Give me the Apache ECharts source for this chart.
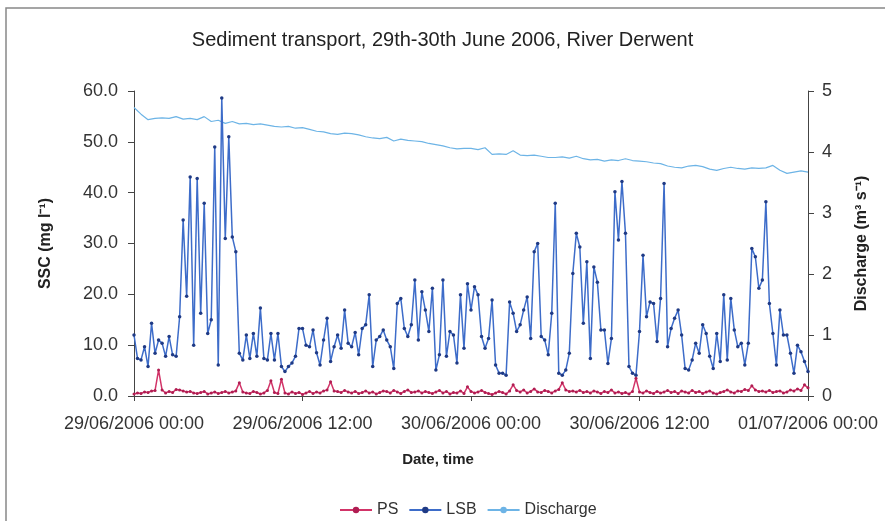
<!DOCTYPE html>
<html>
<head>
<meta charset="utf-8">
<script src="https://cdn.jsdelivr.net/npm/echarts@6/dist/echarts.min.js"></script>
<style>
  html, body { margin: 0; padding: 0; background: #fff; }
  #chart { width: 885px; height: 521px; }
</style>
</head>
<body>
<div id="chart"></div>
<script>
// hours since 29/06/2006 00:00
const xTickLabels = ['29/06/2006 00:00', '29/06/2006 12:00', '30/06/2006 00:00', '30/06/2006 12:00', '01/07/2006 00:00'];
const lsbStep = 0.25;      // 15 min samples
const dischargeStep = 0.5; // 30 min samples

// SSC, LSB sampler (mg/l)
const lsb = [
  12.0, 7.4, 7.1, 9.7, 5.8, 14.3, 8.4, 11.0, 10.4, 7.8,
  11.7, 8.1, 7.8, 15.6, 34.6, 19.6, 43.1, 10.0, 42.8, 16.3,
  37.9, 12.3, 15.0, 49.0, 6.1, 58.6, 31.0, 51.0, 31.3, 28.4,
  8.4, 7.1, 12.0, 7.4, 12.3, 7.8, 17.3, 7.4, 7.1, 12.3,
  7.1, 12.3, 5.8, 4.8, 5.8, 6.5, 7.8,
  13.3, 13.3, 10.0, 9.7, 13.0, 8.5, 6.1, 11.0, 15.3, 6.8,
  9.7, 12.0, 9.4, 16.9, 10.4, 9.7, 12.5, 8.1, 13.3, 14.0,
  19.9, 5.8, 11.0, 11.7, 13.0, 11.0, 9.7, 5.4, 18.2, 19.2,
  13.3, 11.7, 14.0, 22.8, 11.0, 20.5, 16.9, 12.7, 21.2, 5.1,
  8.1, 22.8, 7.8, 12.7, 12.0, 6.5, 19.9,
  9.4, 22.1, 16.9, 21.5, 19.9, 11.7, 9.4, 11.3, 18.9, 6.1,
  4.5, 4.5, 4.1, 18.5, 16.3, 12.7, 14.0, 16.9, 19.5, 11.3,
  28.4, 30.0, 11.7, 11.0, 8.1, 16.3, 37.9, 4.5, 4.1, 5.1,
  8.4, 24.1, 32.0, 29.3, 14.3, 26.4, 7.4, 25.4, 22.4, 13.0,
  13.0, 6.4, 11.3, 40.2, 30.7,
  42.2, 32.0, 5.8, 4.5, 4.1, 12.7, 27.7, 15.6, 18.5, 18.2,
  10.7, 19.2, 41.8, 9.7, 13.3, 15.3, 16.9, 12.0, 5.4, 5.1,
  7.1, 10.4, 8.4, 14.0, 12.3, 7.8, 5.4, 12.3, 6.8, 19.9,
  7.1, 19.2, 13.0, 9.7, 10.4, 6.1, 10.4, 29.0, 27.4, 21.2,
  22.8, 38.2, 18.2, 12.3, 6.1, 16.9, 12.0, 12.0, 8.4, 4.5,
  10.0, 8.7, 6.8, 4.8
];

// SSC, PS sampler (mg/l)
const ps = [
  0.4, 0.6, 0.5, 0.8, 0.7, 1.0, 1.1, 5.1, 1.2, 0.6, 0.9, 0.7, 1.3, 1.2, 1.0, 0.8, 0.9, 0.6, 0.5, 0.7,
  0.9, 0.4, 0.6, 0.8, 0.5, 0.7, 0.9, 0.6, 0.8, 1.0, 2.6, 0.8, 0.6, 0.5, 0.9, 0.7, 0.4, 0.6, 1.1, 3.0,
  0.7, 0.5, 3.3, 0.6, 0.4, 0.8, 0.5, 0.7, 0.3, 0.6, 0.9, 0.5, 0.8, 0.6, 1.0, 1.2, 2.8, 1.0, 0.9, 0.7,
  1.1, 0.8, 0.6, 0.9, 0.5, 0.7, 1.0, 0.6, 0.8, 0.4, 0.7, 1.0, 0.9, 0.6, 1.1, 0.8, 0.5, 0.9, 1.2, 0.7,
  0.8, 1.0, 0.6, 0.9, 0.7, 0.5, 0.8, 1.1, 0.6, 0.9, 0.4, 0.7, 0.6, 1.0, 0.5, 1.8, 0.9, 0.6, 0.8, 1.1,
  0.7, 0.5, 0.3, 0.6, 0.9, 0.7, 0.4, 1.0, 2.2, 1.1, 0.8, 1.2, 0.6, 0.9, 1.4, 0.8, 0.7, 1.1, 0.9, 0.6,
  1.0, 1.3, 2.6, 1.2, 0.9, 1.0, 0.8, 1.1, 0.7, 0.9, 0.6, 1.0, 0.8, 0.5, 0.9, 0.7, 1.2, 0.6, 0.8, 0.5,
  0.7, 0.4, 0.9, 3.5, 0.8, 0.6, 1.0, 0.7, 0.5, 0.9, 0.6, 0.8, 1.1, 0.7, 0.9, 0.5, 1.0, 0.8, 0.6, 1.1,
  0.7, 0.9, 0.5, 0.8, 1.0, 0.6, 0.4, 0.7, 0.9, 1.2, 0.8, 0.6, 1.0, 0.9, 1.3, 1.1, 2.0, 1.2, 0.9, 1.0,
  0.8, 1.1, 0.7, 0.9, 1.0, 0.6, 0.8, 1.2, 1.0, 1.4, 1.1, 2.2, 1.6
];

// discharge (m3/s)
const discharge = [
  4.73, 4.62, 4.53, 4.55, 4.56, 4.55, 4.58, 4.54, 4.55, 4.53,
  4.58, 4.50, 4.52, 4.47, 4.50, 4.46, 4.47, 4.45, 4.46, 4.44,
  4.42, 4.41, 4.42, 4.39, 4.40, 4.37, 4.34, 4.33, 4.30, 4.29,
  4.31, 4.30, 4.28, 4.25, 4.23, 4.22, 4.24, 4.18, 4.21, 4.19,
  4.18, 4.17, 4.14, 4.12, 4.10, 4.07, 4.05, 4.06, 4.06, 4.04,
  4.07, 3.96, 3.97, 3.96, 4.02, 3.95, 3.94, 3.95, 3.93, 3.91,
  3.91, 3.92, 3.90, 3.93, 3.89, 3.87, 3.88, 3.85, 3.87, 3.86,
  3.89, 3.86, 3.85, 3.84, 3.82, 3.81, 3.77, 3.75, 3.74, 3.77,
  3.78, 3.76, 3.72, 3.70, 3.73, 3.75, 3.73, 3.72, 3.74, 3.73,
  3.74, 3.78, 3.70, 3.65, 3.67, 3.69, 3.67
];

const font = "'Liberation Sans', Arial, sans-serif";

var chart = echarts.init(document.getElementById('chart'), null, { renderer: 'canvas' });

var option = {
  animation: false,
  backgroundColor: '#fff',
  textStyle: { fontFamily: font },
  title: {
    text: 'Sediment transport, 29th-30th June 2006, River Derwent',
    left: 'center',
    top: 25,
    padding: [5, 5, 5, 23],
    textStyle: { fontSize: 20, fontWeight: 'normal', color: '#222', fontFamily: font }
  },
  graphic: [{
    type: 'rect',
    shape: { x: 6, y: 8, width: 890, height: 520 },
    style: { fill: 'none', stroke: '#888', lineWidth: 1.5 },
    silent: true
  }],
  legend: {
    top: 497,
    left: 334,
    itemWidth: 32,
    itemHeight: 8,
    itemGap: 10,
    textStyle: { fontSize: 16, color: '#333', fontFamily: font },
    data: ['PS', 'LSB', 'Discharge']
  },
  grid: { left: 134, right: 77, top: 91, bottom: 125 },
  xAxis: {
    type: 'value',
    min: 0,
    max: 48,
    interval: 12,
    name: 'Date, time',
    nameLocation: 'middle',
    nameGap: 56,
    nameTextStyle: {
      fontSize: 15, fontWeight: 'bold', color: '#222', fontFamily: font,
      padding: [0, 66, 0, 0]
    },
    axisLine: { lineStyle: { color: '#444', width: 1 } },
    axisTick: { length: 5, lineStyle: { color: '#444' } },
    splitLine: { show: false },
    axisLabel: {
      fontSize: 18,
      color: '#333',
      margin: 19,
      showMinLabel: true,
      showMaxLabel: true,
      hideOverlap: false,
      formatter: function (v) { return xTickLabels[Math.round(v / 12)]; }
    }
  },
  yAxis: [{
    type: 'value',
    min: 0,
    max: 60,
    interval: 10,
    name: 'SSC (mg l⁻¹)',
    nameLocation: 'middle',
    nameRotate: 90,
    nameGap: 80,
    nameTextStyle: { fontSize: 16, fontWeight: 'bold', color: '#222', fontFamily: font },
    axisLine: { show: true, lineStyle: { color: '#444', width: 1 } },
    axisTick: { show: true, length: 6, lineStyle: { color: '#444' } },
    splitLine: { show: false },
    axisLabel: {
      fontSize: 18, color: '#333', margin: 16,
      formatter: function (v) { return v.toFixed(1); }
    }
  }, {
    type: 'value',
    min: 0,
    max: 5,
    interval: 1,
    position: 'right',
    name: 'Discharge (m³ s⁻¹)',
    nameLocation: 'middle',
    nameRotate: 90,
    nameGap: 46,
    nameTextStyle: { fontSize: 16, fontWeight: 'bold', color: '#222', fontFamily: font },
    axisLine: { show: true, lineStyle: { color: '#444', width: 1 } },
    axisTick: { show: true, length: 6, lineStyle: { color: '#444' } },
    splitLine: { show: false },
    axisLabel: { fontSize: 18, color: '#333', margin: 14 }
  }],
  series: [{
    name: 'LSB',
    type: 'line',
    yAxisIndex: 0,
    data: lsb.map(function (v, i) { return [i * lsbStep, v]; }),
    symbol: 'circle',
    symbolSize: 3.5,
    showSymbol: true,
    color: '#3d6cc9',
    itemStyle: { color: '#1f3a85' },
    lineStyle: { color: '#3d6cc9', width: 1.5 },
    z: 3
  }, {
    name: 'PS',
    type: 'line',
    yAxisIndex: 0,
    data: ps.map(function (v, i) { return [i * lsbStep, v]; }),
    symbol: 'circle',
    symbolSize: 3,
    showSymbol: true,
    color: '#d23468',
    itemStyle: { color: '#b01d52' },
    lineStyle: { color: '#d23468', width: 1.5 },
    z: 4
  }, {
    name: 'Discharge',
    type: 'line',
    yAxisIndex: 1,
    data: discharge.map(function (v, i) { return [i * dischargeStep, v]; }),
    showSymbol: false,
    symbol: 'none',
    color: '#6db4e6',
    lineStyle: { color: '#6db4e6', width: 1.2 },
    z: 2
  }]
};

chart.setOption(option);
</script>
</body>
</html>
